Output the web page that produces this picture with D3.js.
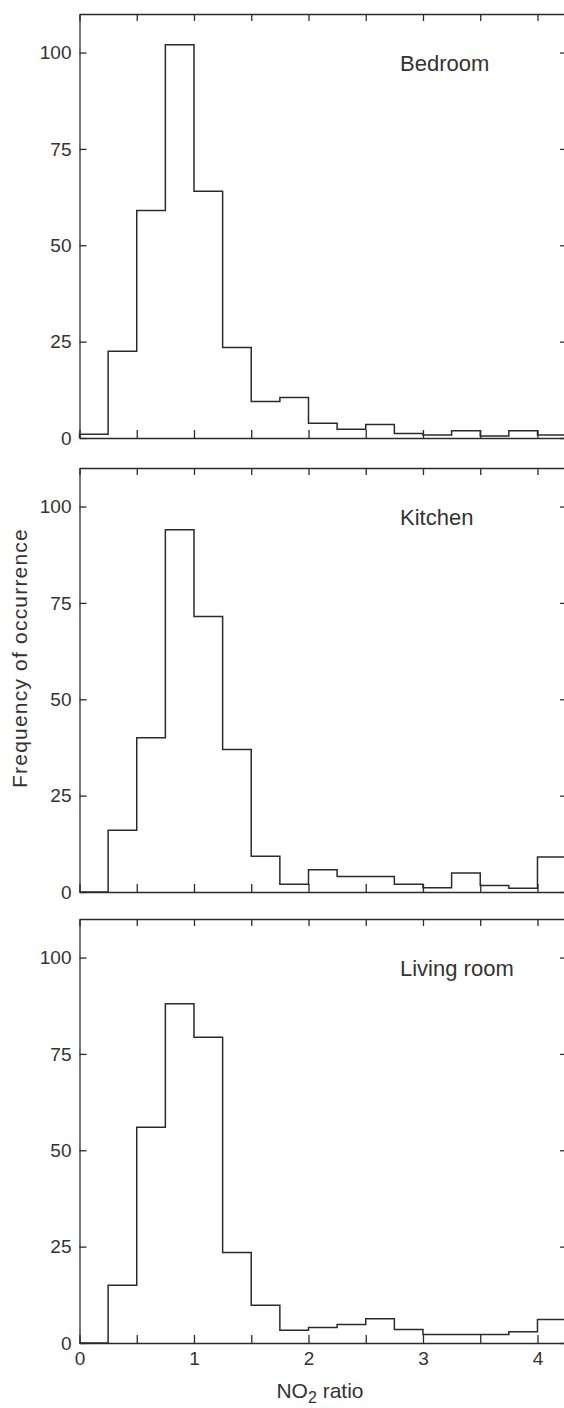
<!DOCTYPE html>
<html><head><meta charset="utf-8">
<script src="https://cdn.jsdelivr.net/npm/d3@7"></script>
<style>body{margin:0;background:#fff;overflow:hidden;} svg{display:block;}</style>
</head><body>
<svg id="c" width="564" height="1408"></svg>
<script>
const binStarts = [0, 0.25, 0.5, 0.75, 1, 1.25, 1.5, 1.75, 2, 2.25, 2.5, 2.75, 3, 3.25, 3.5, 3.75, 4];
const binWidth = 0.25;
const rooms = ["Bedroom", "Kitchen", "Living room"];
const bedroom = [1, 22.5, 59, 102, 64, 23.5, 9.5, 10.5, 3.8, 2.3, 3.5, 1.2, 0.8, 1.9, 0.5, 1.9, 0.8];
const kitchen = [0, 16, 40, 94, 71.5, 37, 9.3, 2, 5.8, 4, 4, 2, 1.1, 4.9, 1.7, 1, 9.1];
const living = [0, 15, 56, 88, 79.3, 23.5, 9.8, 3.3, 4, 4.8, 6.3, 3.5, 2.2, 2.2, 2.2, 2.9, 6.1];
const yTicks = [0, 25, 50, 75, 100];
const xTicks = [0, 0.5, 1, 1.5, 2, 2.5, 3, 3.5, 4];
const xTickLabels = [0, 1, 2, 3, 4];
const xDomain = [0, 4.25];
const yDomain = [0, 110];

const series = [bedroom, kitchen, living];
const svg = d3.select("#c");
const ink = "#2b2b2b";
const font = "'Liberation Sans', Arial, sans-serif";

const panelTops = [14, 468, 919];
const panelH = 424;
const left = 79.5;
const x = d3.scaleLinear().domain(xDomain).range([left, 566.1]);

panelTops.forEach((top, p) => {
  const y = d3.scaleLinear().domain(yDomain).range([top + panelH, top]);
  const g = svg.append("g");

  // left axis
  const ay = g.append("g").attr("transform", `translate(${left},0)`)
    .call(d3.axisLeft(y).tickValues(yTicks).tickSizeInner(-7).tickSizeOuter(0).tickPadding(8));
  // right axis (border falls just outside the picture; only ticks show)
  const ar = g.append("g").attr("transform", `translate(${x(xDomain[1])},0)`)
    .call(d3.axisRight(y).tickValues(yTicks).tickSizeInner(-6).tickSizeOuter(0).tickFormat(""));
  // top axis
  g.append("g").attr("transform", `translate(0,${top})`)
    .call(d3.axisTop(x).tickValues(xTicks).tickSizeInner(-7).tickSizeOuter(0).tickFormat(""));
  // bottom axis
  const ax = g.append("g").attr("transform", `translate(0,${top + panelH})`)
    .call(d3.axisBottom(x).tickValues(xTicks).tickSizeInner(-8).tickSizeOuter(0).tickPadding(9)
      .tickFormat(d => (p === 2 && xTickLabels.includes(d)) ? d3.format("d")(d) : ""));

  g.selectAll(".domain, .tick line").attr("stroke", ink).attr("stroke-width", 1.3);
  ar.select(".domain").attr("stroke", "none");
  g.selectAll(".tick text").attr("fill", "#333").attr("font-family", font);
  ay.selectAll(".tick text").attr("font-size", 19);
  ax.selectAll(".tick text").attr("font-size", 19);

  // histogram outline
  const vals = series[p];
  const pts = [[binStarts[0], 0]]
    .concat(binStarts.map((b, i) => [b, vals[i]]))
    .concat([[binStarts[binStarts.length - 1] + binWidth, vals[vals.length - 1]]]);
  const line = d3.line().x(d => x(d[0])).y(d => y(d[1])).curve(d3.curveStepAfter);
  g.append("path").attr("d", line(pts)).attr("fill", "none")
    .attr("stroke", ink).attr("stroke-width", 1.5);

  // panel label
  g.append("text").attr("x", 400).attr("y", top + 57)
    .attr("font-family", font).attr("font-size", 22).attr("fill", "#333")
    .text(rooms[p]);
});

// y axis title
svg.append("text")
  .attr("transform", "translate(27,658) rotate(-90)")
  .attr("text-anchor", "middle")
  .attr("font-family", font).attr("font-size", 21).attr("letter-spacing", 1.2)
  .attr("fill", "#333")
  .text("Frequency of occurrence");

// x axis title
const xt = svg.append("text")
  .attr("x", 320).attr("y", 1398)
  .attr("text-anchor", "middle")
  .attr("font-family", font).attr("font-size", 21).attr("fill", "#333");
xt.append("tspan").text("NO");
xt.append("tspan").attr("font-size", 16).attr("dy", 5).text("2");
xt.append("tspan").attr("dy", -5).text(" ratio");
</script>
</body></html>
